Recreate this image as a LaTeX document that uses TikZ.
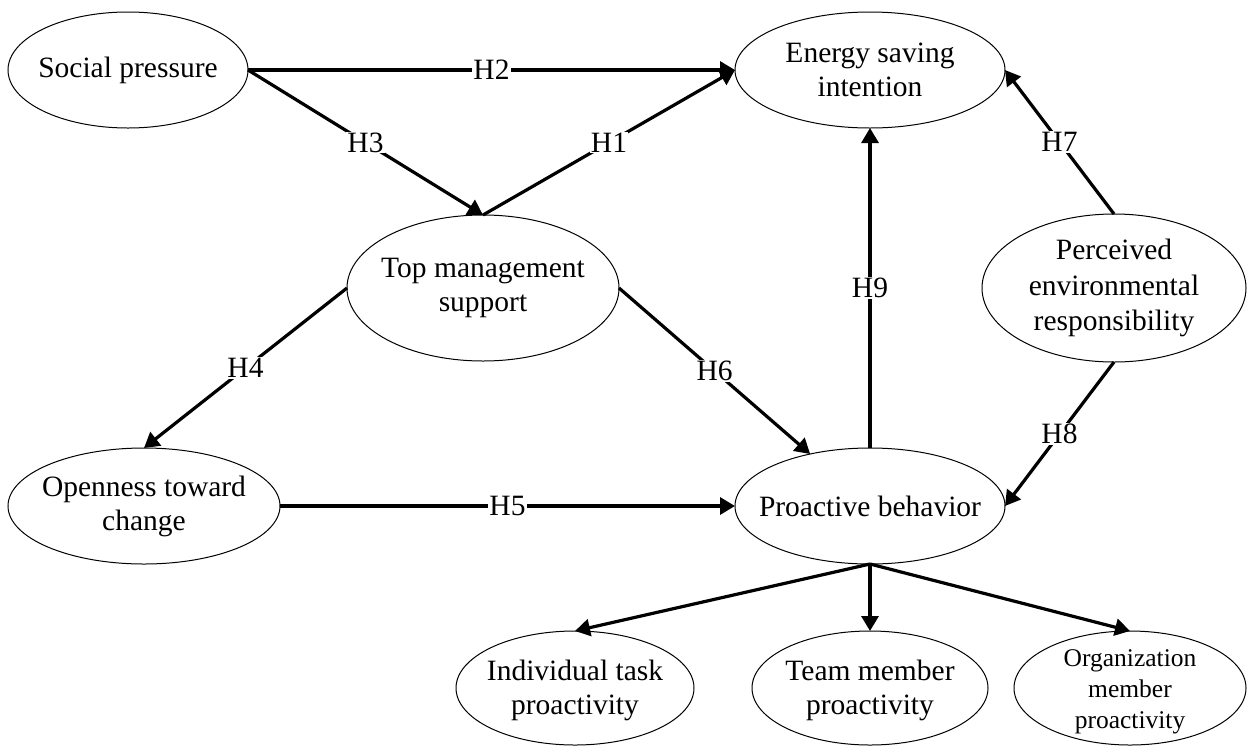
\documentclass[tikz,border=0pt]{standalone}
\usepackage{fontspec}
\setmainfont{Liberation Serif}
\usetikzlibrary{shapes.geometric,arrows.meta}
\begin{document}
\begin{tikzpicture}[x=1pt,y=-1pt,
 var/.style={draw, ellipse, line width=1pt, inner sep=0pt, outer sep=0pt},
 txt/.style={align=center, font=\fontsize{29.5}{34}\selectfont, inner sep=0pt},
 txtsm/.style={align=center, font=\fontsize{25.5}{31}\selectfont, inner sep=0pt},
 arr/.style={line width=3.2pt, -{Triangle[length=15pt,width=17pt]}},
 hl/.style={fill=white, inner sep=1pt, font=\fontsize{29.5}{34}\selectfont}]
\useasboundingbox (0,0) rectangle (1247,745);

\node[var, minimum width=240pt, minimum height=116pt, label={[txt]center:Social pressure}] (sp) at (128,70) {};
\node[var, minimum width=270pt, minimum height=116pt, label={[txt]center:Energy saving\\intention}] (es) at (870,70) {};
\node[var, minimum width=272pt, minimum height=146pt, label={[txt]center:Top management\\support}] (tm) at (483,288) {};
\node[var, minimum width=264pt, minimum height=148pt, label={[txt, font=\fontsize{29.5}{35.5}\selectfont]center:Perceived\\environmental\\responsibility}] (pe) at (1114,288) {};
\node[var, minimum width=272pt, minimum height=116pt, label={[txt]center:Openness toward\\change}] (oc) at (144,506) {};
\node[var, minimum width=270pt, minimum height=116pt, label={[txt]center:Proactive behavior}] (pb) at (870,506) {};
\node[var, minimum width=238pt, minimum height=114pt, label={[txt, yshift=-2pt]center:Individual task\\proactivity}] (it) at (575,688) {};
\node[var, minimum width=236pt, minimum height=114pt, label={[txt, yshift=-2pt]center:Team member\\proactivity}] (tp) at (870,688) {};
\node[var, minimum width=232pt, minimum height=114pt, label={[txtsm, yshift=-4pt]center:Organization\\member\\proactivity}] (op) at (1130,688) {};

\draw[arr] (sp.east) -- node[hl]{H2} (es.west);
\draw[arr] (sp.east) -- node[hl]{H3} (tm.north);
\draw[arr] (tm.north) -- node[hl]{H1} (es.west);
\draw[arr] (tm.west) -- node[hl]{H4} (oc.north);
\draw[arr] (tm.east) -- node[hl]{H6} (pb);
\draw[arr] (oc.east) -- node[hl]{H5} (pb.west);
\draw[arr] (pb.north) -- node[hl]{H9} (es.south);
\draw[arr] (pe.north) -- node[hl]{H7} (es.east);
\draw[arr] (pe.south) -- node[hl]{H8} (pb.east);
\draw[arr] (pb.south) -- (it.north);
\draw[arr] (pb.south) -- (tp.north);
\draw[arr] (pb.south) -- (op.north);
\end{tikzpicture}
\end{document}
